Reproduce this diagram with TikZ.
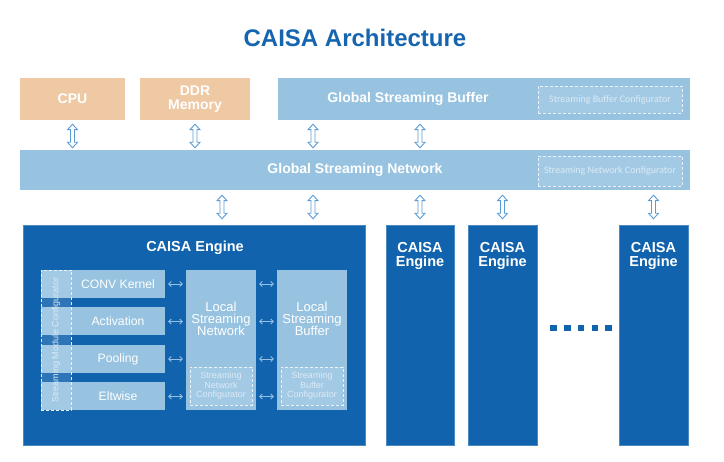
\documentclass[tikz,border=0pt]{standalone}
\usepackage{fontspec}
\setmainfont{Liberation Sans}
\newfontfamily\cfgfont{Carlito}
\usetikzlibrary{arrows.meta,calc}
\definecolor{titleb}{RGB}{21,101,176}
\definecolor{engb}{RGB}{17,99,173}
\definecolor{lightb}{RGB}{151,195,225}
\definecolor{tanc}{RGB}{238,201,164}
\definecolor{arrowb}{RGB}{91,155,213}
\definecolor{cfgtext}{RGB}{220,234,246}
\definecolor{sarc}{RGB}{150,192,228}
\begin{document}
\begin{tikzpicture}[x=1pt,y=-1pt,
  blk/.style={rectangle, inner sep=0, draw=none, text=white, align=center,
    font=\bfseries\fontsize{14}{14}\selectfont},
  tanbox/.style={blk, fill=tanc},
  lbox/.style={blk, fill=lightb},
  btxt/.style={text=white, align=center, inner sep=0, font=\bfseries\fontsize{14}{14}\selectfont},
  engine/.style={rectangle, inner sep=0, fill=engb, draw=engb!75!white, line width=0.5pt, minimum height=220pt},
  etxt/.style={text=white, align=center, inner sep=0, font=\bfseries\fontsize{14.5}{14}\selectfont},
  mod/.style={rectangle, inner sep=0, fill=lightb, minimum width=124pt, minimum height=28pt},
  mtxt/.style={text=white, align=center, inner sep=0, font=\fontsize{12.2}{11}\selectfont},
  ltxt/.style={text=white, align=center, inner sep=0, font=\fontsize{13}{12.2}\selectfont},
  cfg/.style={rectangle, inner sep=0, draw=white!80!lightb, dash pattern=on 3pt off 2pt,
    line width=0.8pt, fill=white, fill opacity=0.12, text opacity=1},
  ctxt/.style={text=cfgtext, align=center, inner sep=0, font=\cfgfont\fontsize{10}{10}\selectfont},
  ictxt/.style={text=cfgtext, align=center, inner sep=0, font=\fontsize{9}{9.5}\selectfont},
  dar/.style={draw=arrowb, fill=white, line width=0.9pt, line join=miter,
    to path={let \p1=(\tikztostart), \p2=(\tikztotarget) in
      (\x1,\y1) -- ++(5pt,-5.5pt) -- ++(-3pt,0pt) -- ({\x1+2pt},{\y2+5.5pt}) -- ++(3pt,0pt)
      -- (\x1,\y2) -- ++(-5pt,5.5pt) -- ++(3pt,0pt) -- ({\x1-2pt},{\y1-5.5pt}) -- ++(-3pt,0pt) -- cycle}},
  sar/.style={draw=sarc, line width=0.8pt, {Straight Barb[length=2.5pt,width=5pt]}-{Straight Barb[length=2.5pt,width=5pt]}},
  dot/.style={rectangle, inner sep=0, fill=engb, minimum size=6.5pt}
]
\useasboundingbox (0,0) rectangle (724,462);

% title
\node[text=titleb, font=\bfseries\fontsize{24}{24}\selectfont, inner sep=0] (title) at (355,38) {CAISA Architecture};

% top row
\node[tanbox, minimum width=105pt, minimum height=42pt] (cpu) at (72.5,99) {CPU};
\node[tanbox, minimum width=110pt, minimum height=42pt] (ddr) at (195,99) {DDR\\Memory};
\node[lbox, minimum width=412pt, minimum height=42pt] (gsb) at (484,99) {};
\node[btxt] (gsbt) at (408,99) {Global Streaming Buffer};
\node[cfg, minimum width=144pt, minimum height=27pt] (gsbc) at (610,99.5) {};
\node[ctxt] (gsbct) at (610,99.5) {Streaming Buffer Configurator};

% global streaming network
\node[lbox, minimum width=670pt, minimum height=40pt] (gsn) at (355,170) {};
\node[btxt] (gsnt) at (355,170) {Global Streaming Network};
\node[cfg, minimum width=144pt, minimum height=30pt] (gsnc) at (610,171) {};
\node[ctxt] (gsnct) at (610,171) {Streaming Network Configurator};

% engines
\node[engine, minimum width=342pt] (eng1) at (194,335) {};
\node[etxt] (eng1t) at (195,248) {CAISA Engine};
\node[engine, minimum width=68pt] (eng2) at (420,335) {};
\node[etxt, font=\bfseries\fontsize{14.5}{13.5}\selectfont] (eng2t) at (420,256) {CAISA\\Engine};
\node[engine, minimum width=69pt] (eng3) at (502.5,335) {};
\node[etxt, font=\bfseries\fontsize{14.5}{13.5}\selectfont] (eng3t) at (502.5,256) {CAISA\\Engine};
\node[engine, minimum width=69pt] (eng4) at (653.5,335) {};
\node[etxt, font=\bfseries\fontsize{14.5}{13.5}\selectfont] (eng4t) at (653.5,256) {CAISA\\Engine};

% dots
\foreach \i/\xx in {1/553.5,2/567.3,3/581,4/594.8,5/608.5}
  \node[dot] (dot\i) at (\xx,328) {};

% arrow x positions
\coordinate (c1) at (313,0);
\coordinate (c2) at (420,0);
\coordinate (d1) at (222,0);
\coordinate (d2) at (313,0);

% top arrows
\draw[dar] ($(cpu.south)+(0,4)$) to ($(cpu.south |- gsn.north)+(0,-2)$);
\draw[dar] ($(ddr.south)+(0,4)$) to ($(ddr.south |- gsn.north)+(0,-2)$);
\draw[dar] ($(gsb.south -| c1)+(0,4)$) to ($(gsn.north -| c1)+(0,-2)$);
\draw[dar] ($(gsb.south -| c2)+(0,4)$) to ($(gsn.north -| c2)+(0,-2)$);

% bottom arrows
\draw[dar] ($(gsn.south -| d1)+(0,5)$) to ($(eng1.north -| d1)+(0,-6)$);
\draw[dar] ($(gsn.south -| d2)+(0,5)$) to ($(eng1.north -| d2)+(0,-6)$);
\draw[dar] ($(gsn.south -| eng2.north)+(0,5)$) to ($(eng2.north)+(0,-6)$);
\draw[dar] ($(gsn.south -| eng3.north)+(0,5)$) to ($(eng3.north)+(0,-6)$);
\draw[dar] ($(gsn.south -| eng4.north)+(0,5)$) to ($(eng4.north)+(0,-6)$);

% modules
\node[mod] (conv) at (103,284) {};
\node[mtxt] (convt) at (118,284) {CONV Kernel};
\node[mod] (act) at (103,321.5) {};
\node[mtxt] (actt) at (118,321.5) {Activation};
\node[mod] (pool) at (103,359) {};
\node[mtxt] (poolt) at (118,359) {Pooling};
\node[mod] (elt) at (103,396.5) {};
\node[mtxt] (eltt) at (118,396.5) {Eltwise};

\node[cfg, minimum width=30pt, minimum height=140.5pt] (smc) at (56,340.25) {};
\node[ictxt, rotate=90] (smct) at (56,340.25) {Streaming Module Configurator};

% local streaming network / buffer
\node[rectangle, inner sep=0, fill=lightb, minimum width=70pt, minimum height=140.5pt] (lsn) at (221,340.25) {};
\node[ltxt] (lsnt) at (221,319) {Local\\Streaming\\Network};
\node[cfg, minimum width=62pt, minimum height=38pt] (lsnc) at (221,386) {};
\node[ictxt] (lsnct) at (221,386) {Streaming\\Network\\Configurator};

\node[rectangle, inner sep=0, fill=lightb, minimum width=70pt, minimum height=140.5pt] (lsb) at (312,340.25) {};
\node[ltxt] (lsbt) at (312,319) {Local\\Streaming\\Buffer};
\node[cfg, minimum width=62pt, minimum height=38pt] (lsbc) at (312,386) {};
\node[ictxt] (lsbct) at (312,386) {Streaming\\Buffer\\Configurator};

% small arrows
\foreach \m in {conv,act,pool,elt}{
  \draw[sar] ($(\m.east)+(3,0)$) -- ($(\m.east -| lsn.west)+(-3,0)$);
  \draw[sar] ($(\m.east -| lsn.east)+(3,0)$) -- ($(\m.east -| lsb.west)+(-3,0)$);
}
\end{tikzpicture}
\end{document}
